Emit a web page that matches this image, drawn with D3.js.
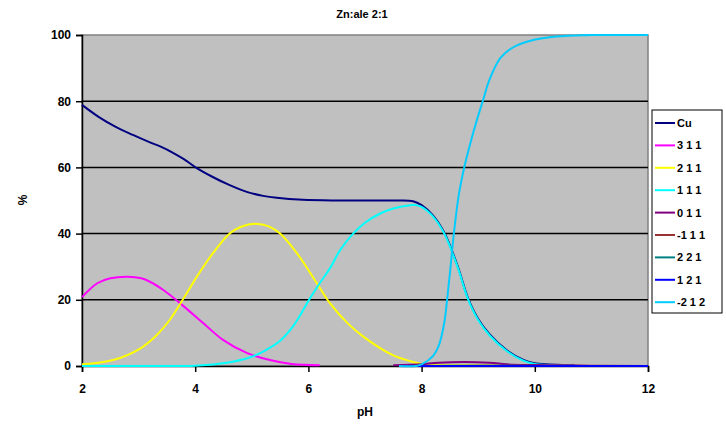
<!doctype html>
<html lang="en">
<head>
<meta charset="utf-8">
<title>Zn:ale 2:1</title>
<script src="https://d3js.org/d3.v7.min.js"></script>
<style>
  body { margin: 0; background: #fff; }
  text { font-family: Arial, "Liberation Sans", sans-serif; font-weight: bold; fill: #000; }
</style>
</head>
<body>
<div id="output"></div>
<script>
// species distribution, [pH, %]
var names = ["Cu", "3 1 1", "2 1 1", "1 1 1", "0 1 1", "-1 1 1", "2 2 1", "1 2 1", "-2 1 2"];
var colors = ["#000080", "#ff00ff", "#ffff00", "#00ffff", "#800080", "#993333", "#008080", "#0000ff", "#00ccff"];

var cu = [[2, 78.9], [2.3, 75.2], [2.58, 72.4], [2.9, 69.8], [3.18, 67.7], [3.4, 66.2], [3.6, 64.5], [3.8, 62.5], [4.0, 60.1],
  [4.31, 57.1], [4.6, 54.7], [4.91, 52.6], [5.2, 51.4], [5.44, 50.8], [5.9, 50.2], [6.5, 50], [7.5, 50], [7.85, 49.8],
  [8.0, 48.6], [8.2, 45.5], [8.41, 40], [8.64, 30], [8.82, 20.5], [9.0, 14.2], [9.2, 9.6], [9.5, 4.8], [9.8, 1.8],
  [10.0, 0.8], [10.5, 0.3], [10.7, 0.2]];
var s311 = [[2, 20.8], [2.27, 25], [2.5, 26.5], [2.8, 27], [3.05, 26.5], [3.25, 25], [3.45, 22.8], [3.73, 19], [4.14, 13],
  [4.49, 7.9], [4.92, 3.9], [5.32, 1.8], [5.7, 0.6], [6.2, 0.2]];
var s211 = [[2, 0.5], [2.55, 1.8], [3.02, 5.2], [3.3, 9], [3.55, 13.9], [3.78, 20], [4.03, 27], [4.31, 34], [4.61, 40],
  [4.8, 42], [5.07, 43], [5.3, 42.2], [5.5, 40], [5.8, 34], [6.15, 25], [6.38, 19], [6.7, 12.8], [7.0, 8.5], [7.5, 3.2],
  [7.9, 1], [8.0, 0.6], [8.3, 0.3], [9.0, 0.2], [10, 0]];
var s111 = [[2, 0], [3.8, 0], [4.0, 0.1], [4.5, 0.8], [5.0, 2.8], [5.25, 4.8], [5.5, 7.6], [5.75, 12.5], [6.03, 20.5],
  [6.2, 25], [6.38, 29.5], [6.56, 35], [6.79, 40], [7.0, 43.3], [7.26, 46], [7.5, 47.6], [7.8, 48.6], [7.9, 48.6],
  [8.0, 48.1], [8.2, 45.2], [8.41, 39.7], [8.64, 29.7], [8.82, 20.2], [9.0, 13.9], [9.2, 9.3], [9.5, 4.6],
  [9.8, 1.6], [10.0, 0.6], [10.5, 0.2], [10.7, 0.1]];
var s011 = [[7.5, 0.2], [8.0, 0.5], [8.3, 1], [9.2, 1], [9.5, 0.5], [10, 0.3], [10.5, 0.2], [11, 0]];
var s_111 = [[8.5, 0], [9.5, 0.1], [10.5, 0.1], [12, 0]];
var s221 = [[7.8, 0], [9, 0.1], [10, 0], [12, 0]];
var s121 = [[7.6, 0], [12, 0]];
var s_212 = [[7.6, 0], [7.9, 0], [8.0, 0.5], [8.2, 3], [8.3, 6], [8.4, 13], [8.45, 20], [8.5, 28], [8.57, 40],
  [8.66, 52], [8.76, 60.5], [8.88, 68.5], [8.98, 74.5], [9.08, 80], [9.2, 86.5], [9.39, 93], [9.62, 96.3], [9.97, 98.5],
  [10.3, 99.4], [10.8, 99.9], [11, 100], [12, 100]];
var series = [cu, s311, s211, s111, s011, s_111, s221, s121, s_212];

var xTicks = [2, 4, 6, 8, 10, 12];
var yTicks = [0, 20, 40, 60, 80, 100];

var W = 726, H = 435;
var m = { left: 82, right: 78, top: 35, bottom: 69 };

var svg = d3.select("#output").append("svg")
  .attr("width", W)
  .attr("height", H);

var x = d3.scaleLinear().domain([2, 12]).range([m.left, W - m.right]);
var y = d3.scaleLinear().domain([0, 100]).range([H - m.bottom, m.top]);

// plot area
svg.append("rect")
  .attr("x", x(2)).attr("y", y(100))
  .attr("width", x(12) - x(2)).attr("height", y(0) - y(100))
  .attr("fill", "#c0c0c0")
  .attr("stroke", "#808080")
  .attr("stroke-width", 1.5);

svg.append("g").selectAll("line")
  .data(yTicks.filter(function (d) { return d > 0 && d < 100; }))
  .enter().append("line")
  .attr("x1", x(2)).attr("x2", x(12))
  .attr("y1", function (d) { return y(d); })
  .attr("y2", function (d) { return y(d); })
  .attr("stroke", "#000")
  .attr("stroke-width", 1.5);

// axes
var xAxis = svg.append("g")
  .attr("transform", "translate(0," + y(0) + ")")
  .call(d3.axisBottom(x).tickValues(xTicks).tickSize(6).tickPadding(12));
var yAxis = svg.append("g")
  .attr("transform", "translate(" + x(2) + ",0)")
  .call(d3.axisLeft(y).tickValues(yTicks).tickSize(6).tickPadding(5));

[xAxis, yAxis].forEach(function (a) {
  a.select(".domain").attr("stroke", "#000").attr("stroke-width", 1.5);
  a.selectAll(".tick line").attr("stroke", "#000").attr("stroke-width", 1.5);
  a.selectAll("text").attr("font-size", 12).attr("font-family", "Arial, 'Liberation Sans', sans-serif")
    .attr("font-weight", "bold").attr("fill", "#000");
});

// curves
var line = d3.line()
  .x(function (d) { return x(d[0]); })
  .y(function (d) { return y(d[1]); })
  .curve(d3.curveCatmullRom.alpha(0.5));

svg.append("g").selectAll("path")
  .data(series)
  .enter().append("path")
  .attr("d", line)
  .attr("fill", "none")
  .attr("stroke", function (d, i) { return colors[i]; })
  .attr("stroke-width", 2);

// titles
svg.append("text")
  .attr("x", 362).attr("y", 18)
  .attr("text-anchor", "middle")
  .attr("font-size", 11)
  .text("Zn:ale 2:1");

svg.append("text")
  .attr("x", 365).attr("y", 416)
  .attr("text-anchor", "middle")
  .attr("font-size", 12)
  .text("pH");

svg.append("text")
  .attr("transform", "translate(27,200) rotate(-90)")
  .attr("text-anchor", "middle")
  .attr("font-size", 12)
  .text("%");

// legend
var legend = svg.append("g").attr("transform", "translate(652,110)");
legend.append("rect")
  .attr("width", 70).attr("height", 203)
  .attr("fill", "#fff")
  .attr("stroke", "#000")
  .attr("stroke-width", 1);

var items = legend.selectAll(".item")
  .data(names)
  .enter().append("g")
  .attr("class", "item")
  .attr("transform", function (d, i) { return "translate(0," + (13 + i * 22.4) + ")"; });

items.append("line")
  .attr("x1", 3).attr("x2", 23)
  .attr("stroke", function (d, i) { return colors[i]; })
  .attr("stroke-width", 2);

items.append("text")
  .attr("x", 25).attr("y", 4)
  .attr("font-size", 11)
  .text(function (d) { return d; });
</script>
</body>
</html>
